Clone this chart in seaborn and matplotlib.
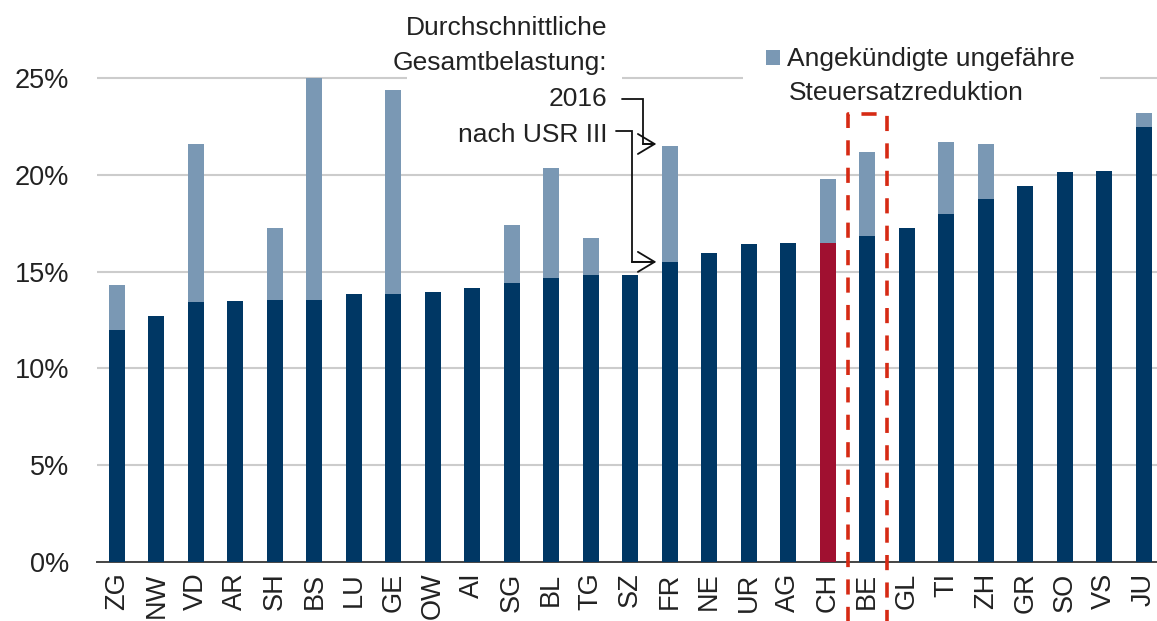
import matplotlib
matplotlib.use("Agg")
import matplotlib.pyplot as plt
import matplotlib.transforms as mtransforms
from matplotlib.patches import Rectangle
import seaborn as sns

# ---------------- data ----------------
cantons = ["ZG", "NW", "VD", "AR", "SH", "BS", "LU", "GE", "OW", "AI", "SG", "BL", "TG", "SZ",
           "FR", "NE", "UR", "AG", "CH", "BE", "GL", "TI", "ZH", "GR", "SO", "VS", "JU"]
rate_after_usr3 = [12.0, 12.7, 13.4, 13.5, 13.55, 13.55, 13.85, 13.85, 13.95, 14.15, 14.4, 14.65, 14.8, 14.8,
                   15.5, 15.95, 16.4, 16.5, 16.5, 16.85, 17.25, 18.0, 18.75, 19.45, 20.15, 20.2, 22.5]
rate_2016 = [14.3, 12.7, 21.6, 13.5, 17.25, 25.0, 13.85, 24.4, 13.95, 14.15, 17.4, 20.35, 16.75, 14.8,
             21.5, 15.95, 16.4, 16.5, 19.8, 21.2, 17.25, 21.7, 21.6, 19.45, 20.15, 20.2, 23.2]
ytick_values = [0, 5, 10, 15, 20, 25]
ytick_labels = ["0%", "5%", "10%", "15%", "20%", "25%"]
legend_label = ["Angekündigte ungefähre", "Steuersatzreduktion"]
annot_lines = ["Durchschnittliche", "Gesamtbelastung:", "2016", "nach USR III"]
highlight_red = "CH"
highlight_box = "BE"
arrow_target = "FR"

# ---------------- style ----------------
sns.set_style("white")
plt.rcParams["font.family"] = ["Liberation Sans", "DejaVu Sans"]
TXT = "#222222"
DARK = "#003764"
LIGHT = "#7a98b4"
RED = "#a01030"
DASH = "#d62a14"

W, H = 1157, 621
fig = plt.figure(figsize=(W / 100, H / 100), dpi=100)
px_per_cat = 39.5
left_px, zero_px = 97, 561.5
ax = fig.add_axes([left_px / W, (H - zero_px) / H, 27 * px_per_cat / W, zero_px / H])
px_per_pct = 19.33

sns.barplot(x=cantons, y=rate_2016, color=LIGHT, width=0.4, saturation=1,
            errorbar=None, ax=ax, zorder=2, linewidth=0)
palette = {c: (RED if c == highlight_red else DARK) for c in cantons}
sns.barplot(x=cantons, y=rate_after_usr3, hue=cantons, palette=palette, legend=False,
            width=0.4, saturation=1, errorbar=None, ax=ax, zorder=3, linewidth=0)

ax.set_xlim(-0.5, len(cantons) - 0.5)
ax.set_ylim(0, zero_px / px_per_pct)
ax.set_yticks(ytick_values)
ax.set_yticklabels(ytick_labels, fontsize=19.5, color=TXT)
ax.tick_params(axis="y", length=0, pad=20)
ax.set_xticks(range(len(cantons)))
ax.set_xticklabels(cantons, rotation=90, fontsize=19.5, color=TXT)
ax.set_xticks([i - 0.5 for i in range(len(cantons) + 1)], minor=True)
ax.tick_params(axis="x", which="major", length=0, pad=8)
ax.tick_params(axis="x", which="minor", length=5, width=1.3, color="#444444")
ax.set_xlabel("")
ax.set_ylabel("")

for s in ["top", "right", "left"]:
    ax.spines[s].set_visible(False)
ax.spines["bottom"].set_color("#444444")
ax.spines["bottom"].set_linewidth(1.4)
ax.yaxis.grid(True, color="#cccccc", linewidth=1.5)
ax.set_axisbelow(True)

# white boxes that interrupt the 25% gridline behind the texts
blend = mtransforms.blended_transform_factory(fig.transFigure, ax.transData)
ax.add_patch(Rectangle((407 / W, 24.5), (622 - 407) / W, 1.0, transform=blend,
                       facecolor="white", edgecolor="none", zorder=1))
ax.add_patch(Rectangle((743 / W, 24.5), (1100 - 743) / W, 1.0, transform=blend,
                       facecolor="white", edgecolor="none", zorder=1))

# annotation text (right aligned)
for line, base in zip(annot_lines, [35, 70, 106, 142]):
    fig.text(607 / W, 1 - base / H, line, ha="right", va="baseline", fontsize=19, color=TXT)

# elbow arrows to FR bar
fi = cantons.index(arrow_target)
tip_x = fi - 0.34
for (x0, xe, y0, yt) in [(fi - 1.22, fi - 0.68, 23.93, rate_2016[fi] + 0.1),
                         (fi - 1.35, fi - 0.96, 22.27, rate_after_usr3[fi])]:
    ax.plot([x0, xe, xe, tip_x - 0.05], [y0, y0, yt, yt], color="#111111", lw=1.3,
            clip_on=False, zorder=6, solid_joinstyle="miter")
    ax.annotate("", xy=(tip_x, yt), xytext=(xe, yt),
                arrowprops=dict(arrowstyle="->,head_length=0.5,head_width=0.3", lw=1.3,
                                color="#111111", mutation_scale=24, shrinkA=0, shrinkB=0),
                zorder=6)

# legend (manual)
fig.patches.append(Rectangle((766 / W, 1 - 65 / H), 14 / W, 15 / H, transform=fig.transFigure,
                             facecolor=LIGHT, edgecolor="none"))
fig.text(787 / W, 1 - 66 / H, legend_label[0], ha="left", va="baseline", fontsize=19, color=TXT)
fig.text(789 / W, 1 - 100 / H, legend_label[1], ha="left", va="baseline", fontsize=19, color=TXT)

# red dashed highlight box around BE
bi = cantons.index(highlight_box)
top = (zero_px - 114) / px_per_pct
bot = -4.0
ax.plot([bi - 0.5, bi - 0.5, bi + 0.5, bi + 0.5], [bot, top, top, bot], color=DASH, lw=2.6,
        linestyle=(0, (4.2, 3.4)), clip_on=False, zorder=7)

fig.savefig("out.png", dpi=100)
